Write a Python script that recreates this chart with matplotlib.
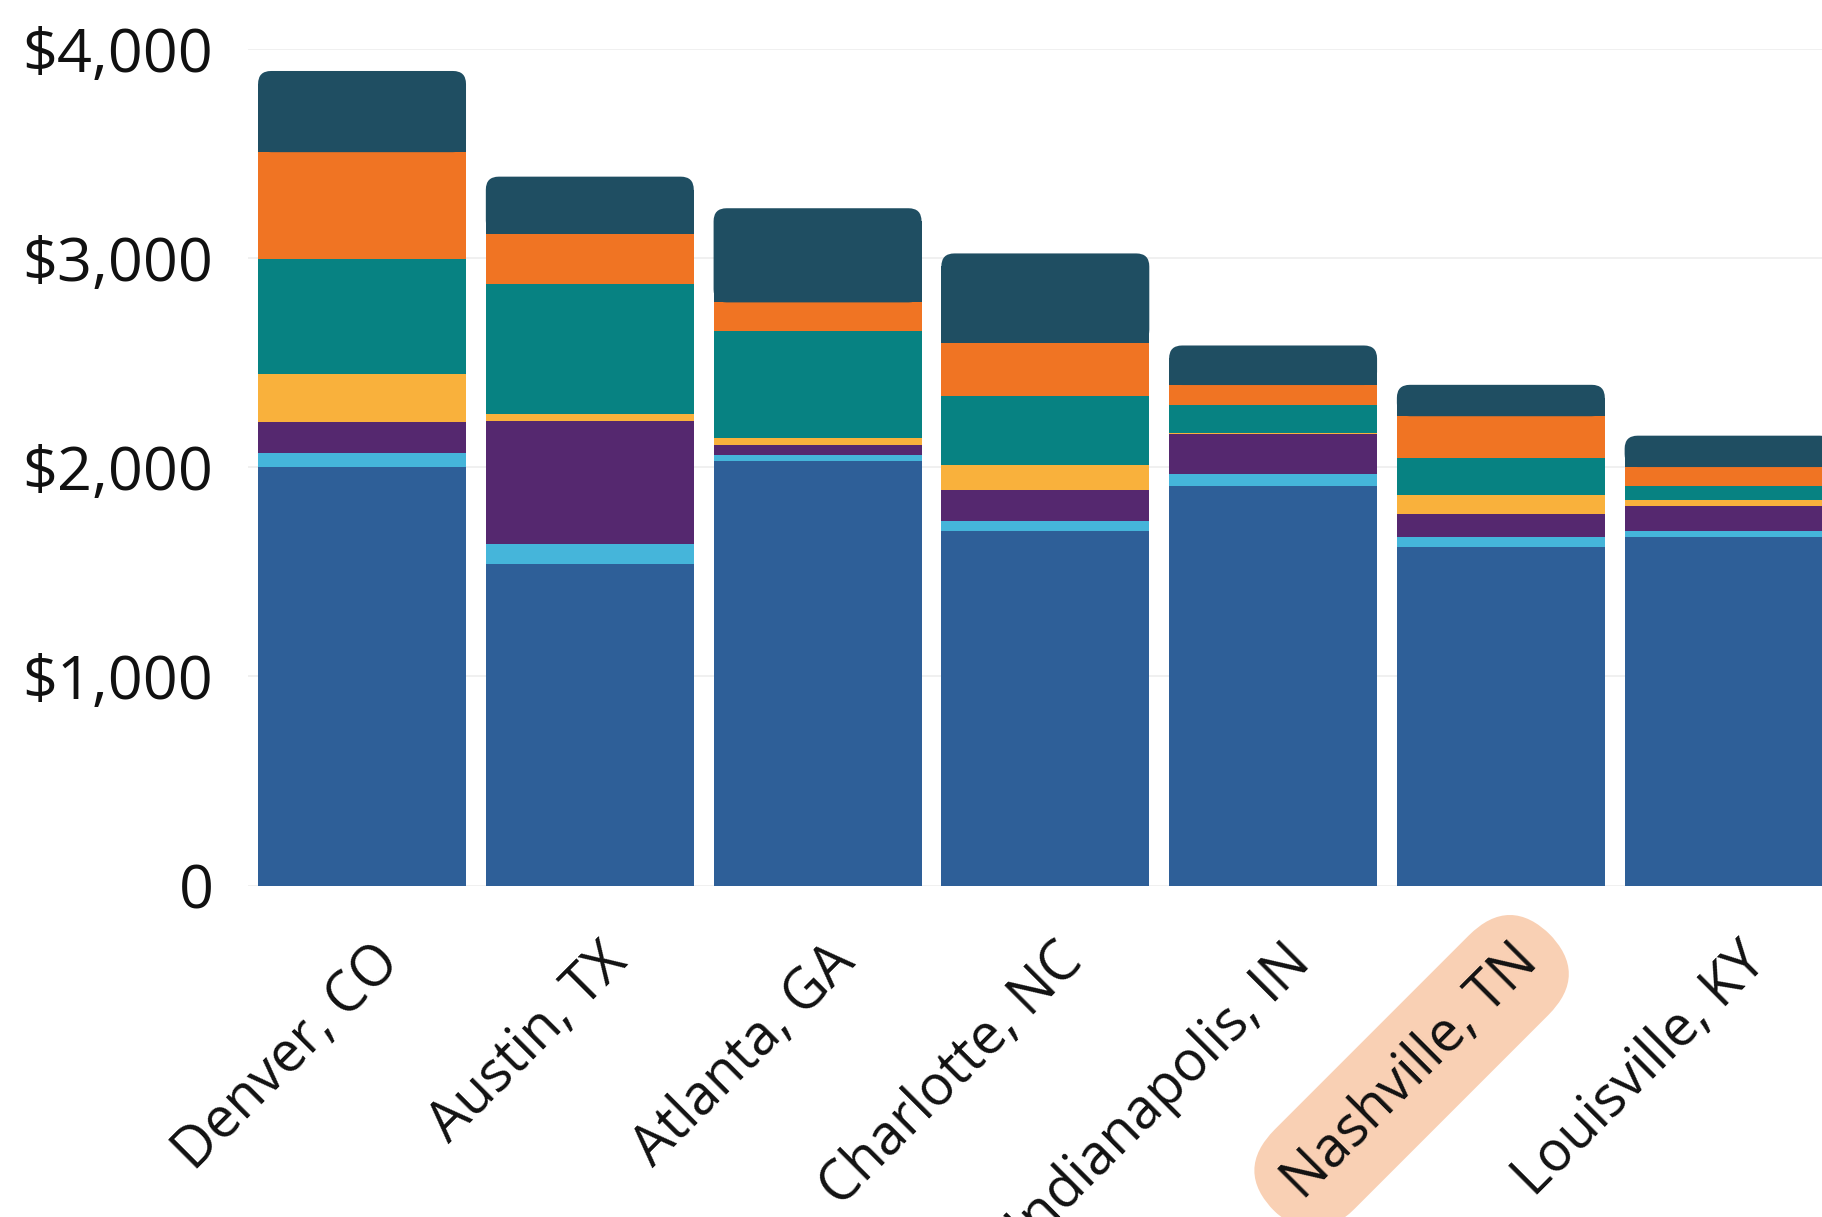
import numpy as np
import matplotlib.pyplot as plt
from matplotlib.patches import FancyBboxPatch
from matplotlib.transforms import ScaledTranslation

plt.rcParams['font.family'] = ['Open Sans', 'DejaVu Sans']

cities = ['Denver, CO', 'Austin, TX', 'Atlanta, GA', 'Charlotte, NC',
          'Indianapolis, IN', 'Nashville, TN', 'Louisville, KY']
highlight = 'Nashville, TN'

# monthly cost segments, bottom to top
housing = [2000, 1539, 2028, 1694, 1911, 1617, 1667]
utilities = [67, 94, 33, 50, 56, 50, 28]
transport = [150, 589, 44, 145, 194, 111, 122]
healthcare = [227, 34, 33, 122, 5, 89, 28]
food = [550, 622, 511, 328, 133, 177, 67]
childcare = [512, 239, 139, 255, 94, 200, 89]
other = [388, 272, 450, 428, 189, 150, 150]

segments = [housing, utilities, transport, healthcare, food, childcare, other]
colors = ['#2E5F98', '#45B5DA', '#55286F', '#F9B13C', '#078282', '#F07423', '#1F4E62']

yticks = [0, 1000, 2000, 3000, 4000]
ytick_labels = ['0', '$1,000', '$2,000', '$3,000', '$4,000']

W, H = 1822, 1217
fig = plt.figure(figsize=(W / 100, H / 100), dpi=100)
ax = fig.add_axes([0.1362, 0.2722, 1 - 0.1362, 0.9599 - 0.2722])

x = np.arange(len(cities))
width = 0.913
xlim = (-0.5, 6.41)
ylim = (0, 4000)
ax.set_xlim(*xlim)
ax.set_ylim(*ylim)

# corner rounding in data units
pos = ax.get_position()
px_x = (xlim[1] - xlim[0]) / (pos.width * W)
px_y = (ylim[1] - ylim[0]) / (pos.height * H)
r_px = 13
rx = r_px * px_x
aspect = px_y / px_x

bottom = np.zeros(len(cities))
for i, (vals, c) in enumerate(zip(segments, colors)):
    vals = np.array(vals, dtype=float)
    if i < len(segments) - 1:
        ax.bar(x, vals, width, bottom=bottom, color=c, linewidth=0, zorder=2)
    else:
        # square lower part, rounded top
        ry = r_px * px_y
        bars = ax.bar(x, vals - ry, width, bottom=bottom, color=c, linewidth=0, zorder=2)
        for rect, v, b in zip(bars, vals, bottom):
            ax.add_patch(FancyBboxPatch((rect.get_x(), b), rect.get_width(), v,
                                        boxstyle='round,pad=0,rounding_size=%f' % rx,
                                        mutation_aspect=aspect,
                                        facecolor=c, linewidth=0, zorder=2))
    bottom += vals

ax.set_yticks(yticks)
ax.set_yticklabels(ytick_labels)
ax.yaxis.grid(True, color='#EDEDED', linewidth=1.2)
ax.set_axisbelow(True)
for s in ax.spines.values():
    s.set_visible(False)
ax.tick_params(axis='y', length=0, pad=25, labelsize=44, labelcolor='#111111')
ax.tick_params(axis='x', length=0, pad=49, labelsize=40, labelcolor='#111111')

ax.set_xticks(x)
ax.set_xticklabels(cities)
shift = ScaledTranslation(21 / 72, 0, fig.dpi_scale_trans)
for lab in ax.get_xticklabels():
    lab.set_rotation(45)
    lab.set_ha('right')
    lab.set_va('center')
    lab.set_rotation_mode('anchor')
    lab.set_transform(lab.get_transform() + shift)
    if lab.get_text() == highlight:
        lab.set_bbox(dict(boxstyle='round,pad=0.5,rounding_size=1.05',
                          facecolor='#F9D0B4', edgecolor='none'))

fig.savefig('out.png', dpi=100)
